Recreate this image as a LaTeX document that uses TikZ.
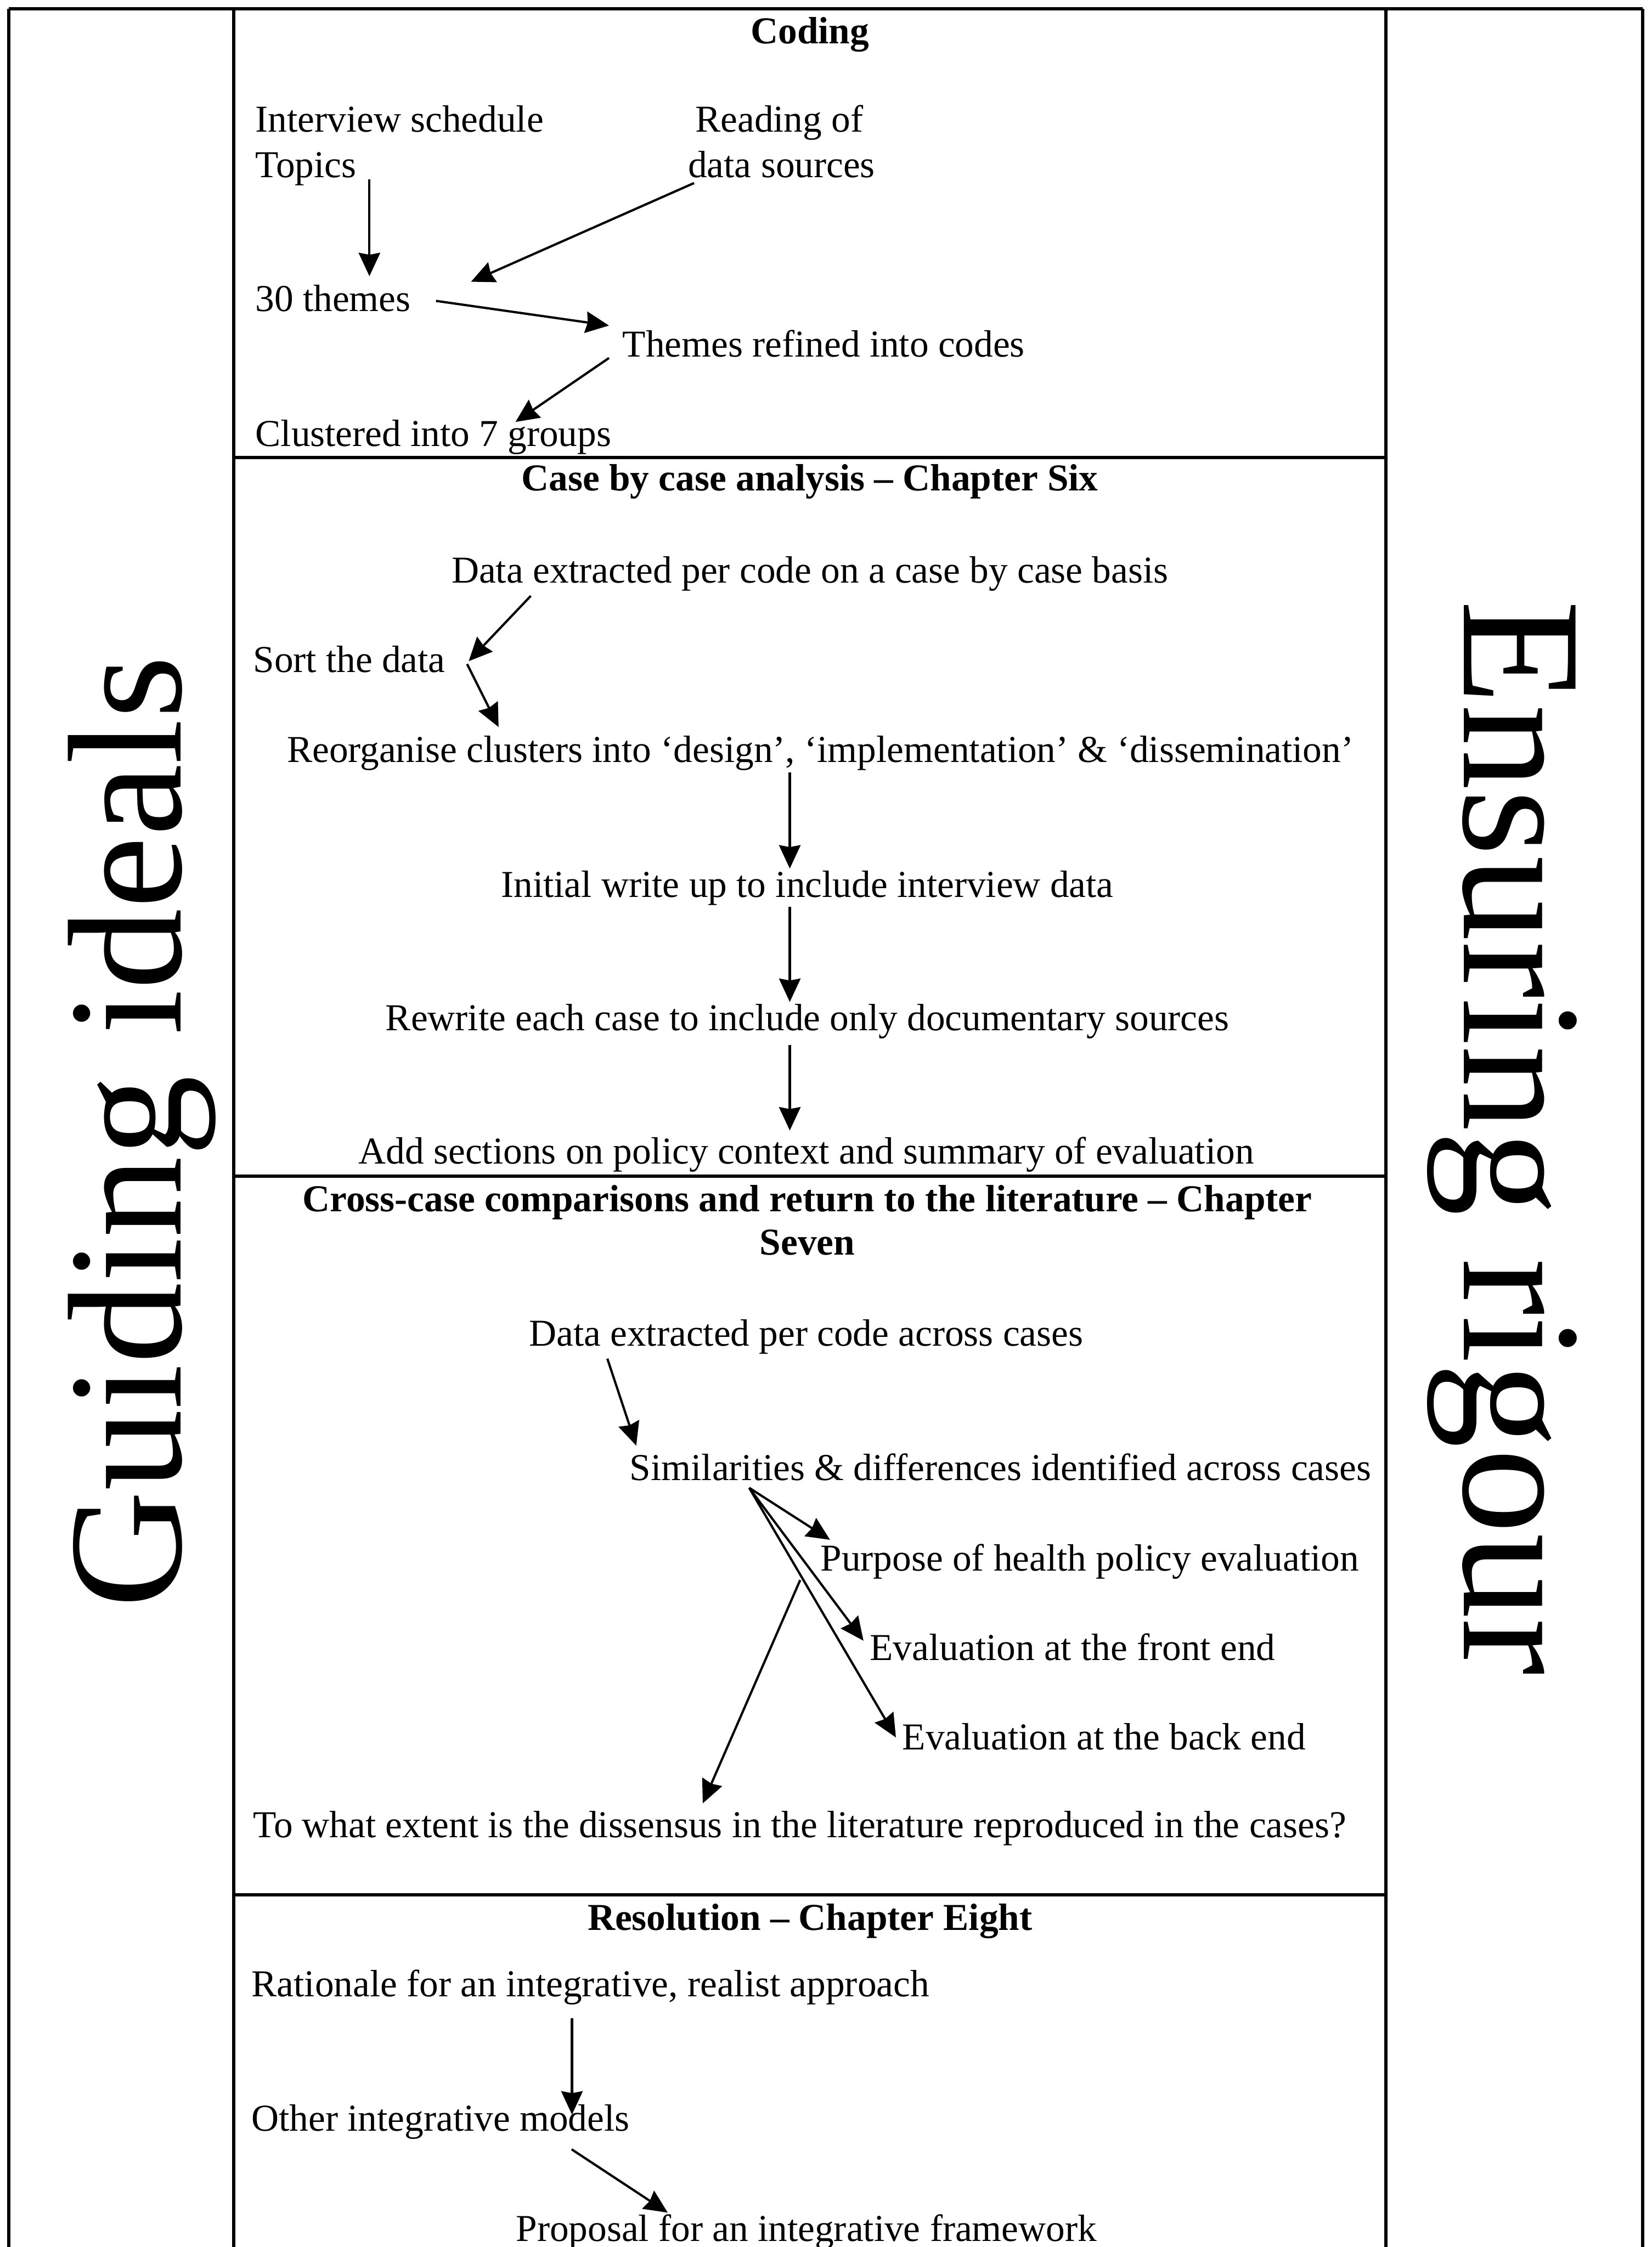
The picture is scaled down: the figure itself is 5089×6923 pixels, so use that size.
\documentclass[tikz,border=0pt]{standalone}
\usepackage{fontspec}
\setmainfont{Liberation Serif}
\usetikzlibrary{arrows.meta,calc}
\begin{document}
\begin{tikzpicture}[x=0.01cm, y=-0.01cm]
\tikzset{
 txt/.style={inner sep=0pt, outer sep=0pt, font=\fontsize{33.3}{40}\selectfont},
 head/.style={inner sep=0pt, outer sep=0pt, font=\fontsize{33.3}{40}\selectfont\bfseries},
 frame/.style={line width=0.1cm},
 arr/.style={line width=0.07cm, -{Stealth[length=0.72cm,width=0.66cm,inset=0.06cm]}},
 big/.style={inner sep=0pt, outer sep=0pt}
}
\useasboundingbox (0,0) rectangle (5089,6923);
\fill[white] (0,0) rectangle (5089,6923);
\clip (0,0) rectangle (5089,6923);

% frame
\draw[frame] (27,27) -- (5060,27);
\draw[frame] (27,27) -- (27,6960);
\draw[frame] (720,27) -- (720,6960);
\draw[frame] (4270,27) -- (4270,6960);
\draw[frame] (5060,27) -- (5060,6960);
\draw[frame] (720,1410) -- (4270,1410);
\draw[frame] (720,3623) -- (4270,3623);
\draw[frame] (720,5838) -- (4270,5838);

% side titles
\node[big, rotate=90, anchor=base west, font=\fontsize{142.3}{150}\selectfont] (guiding) at (557,4954) {Guiding ideals};
\node[big, rotate=-90, anchor=base west, font=\fontsize{149.4}{160}\selectfont] (ensuring) at (4510,1850) {Ensuring rigour};

% Coding
\node[head, anchor=base] (coding) at (2495,134) {Coding};
\node[txt, anchor=base west] (interview) at (787,407) {Interview schedule};
\node[txt, anchor=base west] (topics) at (787,546) {Topics};
\node[txt, anchor=base west] (reading) at (2142,407) {Reading of};
\node[txt, anchor=base west] (datasrc) at (2120,546) {data sources};
\node[txt, anchor=base west] (themes30) at (787,960) {30 themes};
\node[txt, anchor=base west] (refined) at (1918,1100) {Themes refined into codes};
\node[txt, anchor=base west] (clustered) at (787,1375) {Clustered into 7 groups};

\draw[arr] ($(topics.base west)+(351,7)$) -- ($(themes30.base west)+(351,-109)$);
\draw[arr] ($(datasrc.base west)+(18,18)$) -- ($(themes30.base west)+(664,-92)$);
\draw[arr] ($(themes30.base west)+(556,-33)$) -- ($(refined.base west)+(-42,-97)$);
\draw[arr] ($(refined.base west)+(-42,3)$) -- ($(clustered.base west)+(801,-75)$);

% Case by case
\node[head, anchor=base] (caseHead) at (2495,1512) {Case by case analysis – Chapter Six};
\node[txt, anchor=base] (dataCase) at (2495,1796) {Data extracted per code on a case by case basis};
\node[txt, anchor=base west] (sort) at (780,2072) {Sort the data};
\node[txt, anchor=base west] (reorg) at (884,2348) {Reorganise clusters into ‘design’, ‘implementation’ \& ‘dissemination’};
\node[txt, anchor=base] (initial) at (2487,2764) {Initial write up to include interview data};
\node[txt, anchor=base] (rewrite) at (2487,3175) {Rewrite each case to include only documentary sources};
\node[txt, anchor=base] (addsec) at (2484,3586) {Add sections on policy context and summary of evaluation};

\draw[arr] ($(dataCase.base)+(-860,40)$) -- ($(sort.base west)+(664,-35)$);
\draw[arr] ($(sort.base west)+(659,-26)$) -- ($(reorg.base west)+(652,-108)$);
\draw[arr] ($(reorg.base west)+(1549,32)$) -- ($(initial.base)+(-54,-88)$);
\draw[arr] ($(initial.base)+(-54,30)$) -- ($(rewrite.base)+(-54,-88)$);
\draw[arr] ($(rewrite.base)+(-54,44)$) -- ($(addsec.base)+(-51,-103)$);

% Cross-case
\node[head, anchor=base] (crossHead) at (2487,3733) {Cross-case comparisons and return to the literature – Chapter};
\node[head, anchor=base] (crossHeadB) at (2487,3867) {Seven};
\node[txt, anchor=base west] (dataX) at (1630,4147) {Data extracted per code across cases};
\node[txt, anchor=base west] (sim) at (1940,4561) {Similarities \& differences identified across cases};
\node[txt, anchor=base west] (purpose) at (2528,4840) {Purpose of health policy evaluation};
\node[txt, anchor=base west] (front) at (2680,5116) {Evaluation at the front end};
\node[txt, anchor=base west] (back) at (2780,5390) {Evaluation at the back end};
\node[txt, anchor=base west] (extent) at (780,5662) {To what extent is the dissensus in the literature reproduced in the cases?};

\coordinate (fan) at ($(sim.base west)+(368,23)$);
\coordinate (branch) at ($(purpose.base west)+(-63,28)$);
\draw[arr] ($(dataX.base west)+(241,39)$) -- ($(sim.base west)+(20,-107)$);
\draw[arr] (fan) -- ($(purpose.base west)+(29,-96)$);
\draw[arr] (fan) -- ($(front.base west)+(-20,-61)$);
\draw[arr] (fan) -- ($(back.base west)+(-20,-37)$);
\draw[arr] (branch) -- ($(extent.base west)+(1385,-106)$);

% Resolution
\node[head, anchor=base] (resHead) at (2495,5946) {Resolution – Chapter Eight};
\node[txt, anchor=base west] (rationale) at (775,6152) {Rationale for an integrative, realist approach};
\node[txt, anchor=base west] (other) at (775,6566) {Other integrative models};
\node[txt, anchor=base west] (proposal) at (1590,6905) {Proposal for an integrative framework};

\draw[arr] ($(rationale.base west)+(987,66)$) -- ($(other.base west)+(987,-51)$);
\draw[arr] ($(other.base west)+(986,56)$) -- ($(proposal.base west)+(467,-88)$);
\end{tikzpicture}
\end{document}
